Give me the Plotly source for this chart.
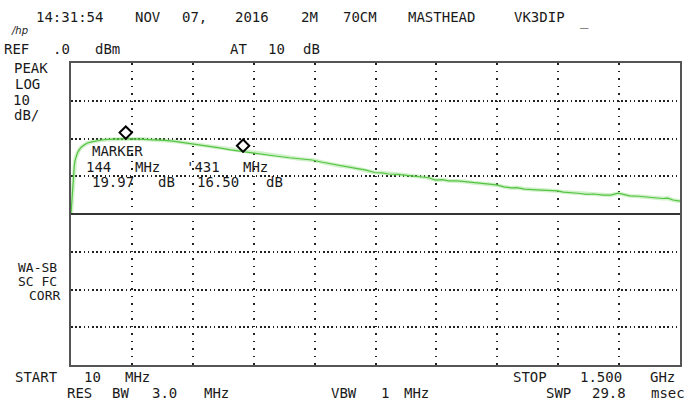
import plotly.graph_objects as go

# ---------------- data ----------------
freq_mhz = [10, 11, 12, 13, 14, 16, 18, 20, 23, 26, 30, 35, 42, 50, 60, 72, 85, 100,
            115, 130, 144, 160, 180, 200, 220, 240, 260, 280, 300, 325, 350, 373, 400,
            431, 460, 487, 515, 544, 572, 600, 625, 649, 666, 690, 707, 730, 753, 770,
            788, 810, 829, 850, 868, 885, 902, 918, 934, 955, 974, 995, 1014, 1033,
            1051, 1069, 1088, 1100, 1120, 1149, 1175, 1200, 1215, 1231, 1250, 1271,
            1290, 1312, 1330, 1349, 1362, 1377, 1398, 1418, 1438, 1458, 1470, 1483, 1500]
level_dbm = [-40.0, -38.5, -36.5, -34.0, -31.5, -29.0, -27.2, -25.8, -24.6, -23.7, -23.0,
             -22.3, -21.7, -21.2, -20.9, -20.6, -20.4, -20.25, -20.15, -20.1, -20.03,
             -20.1, -20.15, -20.2, -20.35, -20.5, -20.7, -21.0, -21.3, -21.8, -22.1,
             -22.5, -23.0, -23.5, -23.9, -24.2, -24.7, -25.1, -25.4, -25.7, -26.3, -26.8,
             -27.2, -27.5, -27.9, -28.3, -29.0, -29.1, -29.4, -29.5, -29.7, -30.0, -30.1,
             -30.4, -31.0, -30.9, -31.2, -31.2, -31.4, -31.7, -31.9, -32.1, -32.3, -32.8,
             -33.1, -33.0, -33.4, -33.6, -33.7, -33.9, -34.2, -34.3, -34.5, -34.8, -34.7,
             -35.0, -35.0, -34.5, -34.9, -35.2, -35.3, -35.6, -35.7, -35.9, -35.8, -36.3,
             -36.6]

marker_freq_mhz = [144, 431]
marker_gain_db = [19.97, 16.50]

ref_level_dbm = 0.0
db_per_div = 10
n_ydiv = 8
display_line_dbm = -40.0
start_mhz = 10
stop_mhz = 1500
n_xdiv = 10

header_words = ["14:31:54", "NOV", "07,", "2016", "2M", "70CM", "MASTHEAD", "VK3DIP", "_"]
ref_words = ["REF", ".0", "dBm", "AT", "10", "dB"]
left_top_words = ["PEAK", "LOG", "10", "dB/"]
left_bottom_words = ["WA-SB", "SC FC", "CORR"]
bottom1_words = ["START", "10", "MHz", "STOP", "1.500", "GHz"]
bottom2_words = ["RES", "BW", "3.0", "MHz", "VBW", "1", "MHz", "SWP", "29.8", "msec"]

# ---------------- layout geometry (pixels) ----------------
W, H = 694, 401
L, R, T, B = 71, 682, 63, 365

header_pos = [(69, 17), (148, 17), (195, 17), (253, 17), (310, 17), (361, 17),
              (443, 17), (541, 17), (586, 21)]
ref_pos = [(16, 49), (61, 49), (108, 49), (239, 49), (277, 49), (312, 49)]
left_top_pos = [(31, 68), (27, 84), (21, 100), (26, 115)]
left_bottom_pos = [(37, 267), (37, 281), (44, 295)]
bottom1_pos = [(36, 377), (93, 377), (138, 377), (532, 377), (603, 377), (664, 377)]
bottom2_pos = [(80, 393), (121, 393), (165, 393), (217, 393), (345, 393), (386, 393),
               (418, 393), (560, 393), (611, 393), (670, 393)]

FONT = dict(family="DejaVu Sans Mono", size=14, color="#1a1a1a")

def paper(x, y):
    return (x - L) / (R - L), (B - y) / (B - T)

annotations = []
def add_words(words, positions, size=14):
    for w, (x, y) in zip(words, positions):
        px, py = paper(x, y)
        annotations.append(dict(text=w, x=px, y=py, xref="paper", yref="paper",
                                xanchor="center", yanchor="middle", showarrow=False,
                                font=dict(FONT, size=size)))

add_words(header_words, header_pos)
add_words(ref_words, ref_pos)
add_words(left_top_words, left_top_pos)
add_words(left_bottom_words, left_bottom_pos, size=13)
add_words(bottom1_words, bottom1_pos)
add_words(bottom2_words, bottom2_pos)

# marker readout block
marker_words = ["MARKER",
                f"{marker_freq_mhz[0]}", "MHz", f"'{marker_freq_mhz[1]}", "MHz",
                f"{marker_gain_db[0]:.2f}", "dB", f"{marker_gain_db[1]:.2f}", "dB"]
marker_pos = [(118, 151), (99, 167), (148, 167), (203, 167), (256, 167),
              (113, 182), (167, 182), (218, 182), (275, 182)]
add_words(marker_words, marker_pos)

# hp logo
lx, ly = paper(19, 31)
annotations.append(dict(text="<i>/hp</i>", x=lx, y=ly, xref="paper", yref="paper",
                        xanchor="center", yanchor="middle", showarrow=False,
                        font=dict(family="DejaVu Sans", size=10, color="#1a1a1a")))

fig = go.Figure()

# trace glow + core
fig.add_trace(go.Scatter(x=freq_mhz, y=level_dbm, mode="lines",
                         line=dict(color="rgba(120,215,100,0.35)", width=4),
                         hoverinfo="skip", showlegend=False))
fig.add_trace(go.Scatter(x=freq_mhz, y=level_dbm, mode="lines",
                         line=dict(color="#55c444", width=1.2),
                         showlegend=False))

# markers: diamond sits on the trace (bottom tip at the level)
px_per_db = (B - T) / (n_ydiv * db_per_div)
marker_level = [display_line_dbm + g for g in marker_gain_db]
fig.add_trace(go.Scatter(x=marker_freq_mhz,
                         y=[m + 6.0 / px_per_db for m in marker_level],
                         mode="markers",
                         marker=dict(symbol="diamond-open", size=9.5, color="#000",
                                     line=dict(width=2, color="#000")),
                         showlegend=False))

fig.update_layout(
    width=W, height=H,
    margin=dict(l=L, r=W - R, t=T, b=H - B, pad=0),
    paper_bgcolor="white", plot_bgcolor="white",
    annotations=annotations,
    shapes=[dict(type="line", xref="paper", x0=0, x1=1, yref="y",
                 y0=display_line_dbm, y1=display_line_dbm,
                 line=dict(color="#333", width=2))],
)

fig.update_xaxes(range=[start_mhz, stop_mhz], tick0=start_mhz,
                 dtick=(stop_mhz - start_mhz) / n_xdiv,
                 showticklabels=False, ticks="",
                 showgrid=True, gridcolor="#222", gridwidth=1.5, griddash="1.5px,6px",
                 zeroline=False, showline=True, linecolor="#555", linewidth=2, mirror=True)
fig.update_yaxes(range=[ref_level_dbm - n_ydiv * db_per_div, ref_level_dbm],
                 tick0=ref_level_dbm, dtick=db_per_div,
                 showticklabels=False, ticks="",
                 showgrid=True, gridcolor="#222", gridwidth=1.5, griddash="1.5px,2.7px",
                 zeroline=False, showline=True, linecolor="#555", linewidth=2, mirror=True)

fig.write_html("out.html",
               config={"displayModeBar": False},
               post_script="document.body.style.margin='0';"
                           "document.body.style.overflow='hidden';")
